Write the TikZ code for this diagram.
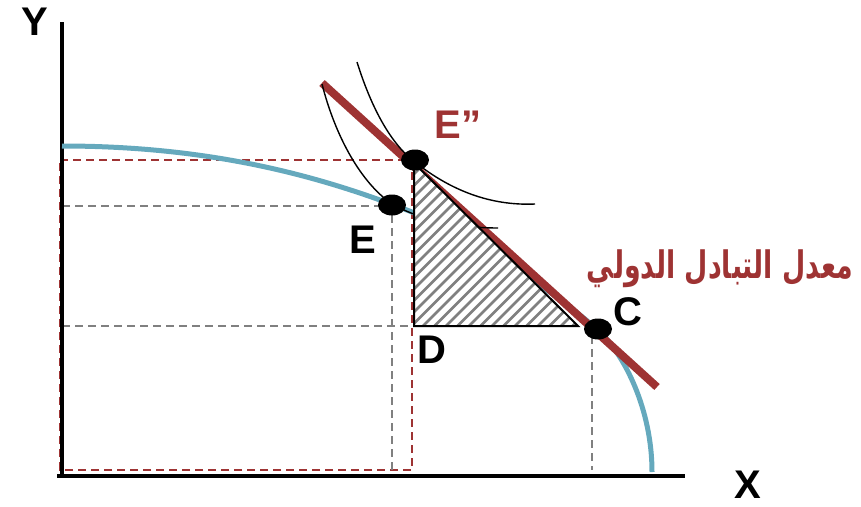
\documentclass[tikz,border=0pt]{standalone}
\usepackage{fontspec}
\usepackage{graphicx}
\setmainfont{Liberation Sans}
\newfontfamily\arabicfont[Script=Arabic]{DejaVu Sans}
\TeXXeTstate=1
\definecolor{ppf}{HTML}{65A9BD}
\definecolor{tot}{HTML}{9E3333}
\definecolor{hatchgray}{HTML}{808080}
\tikzset{
  axis/.style={line width=4pt},
  ppfline/.style={ppf, line width=5pt},
  totline/.style={tot, line width=8pt},
  icurve/.style={black, line width=1.4pt},
  reddash/.style={tot, line width=1.5pt, dash pattern=on 8pt off 5pt},
  graydash/.style={gray, line width=1.6pt, dash pattern=on 8pt off 5pt},
  tri/.style={black, line width=2pt},
  hatch/.style={hatchgray, line width=2.6pt},
  dot/.style={ellipse, fill=black, minimum width=28pt, minimum height=21pt, inner sep=0pt},
  lbl/.style={font=\fontsize{40}{40}\selectfont\bfseries, inner sep=0pt},
}
\usetikzlibrary{shapes.geometric}
\begin{document}
\begin{tikzpicture}[x=1pt,y=-1pt]
\useasboundingbox (0,0) rectangle (861,506);
% key points
\coordinate (Ytop) at (62,22);
\coordinate (O) at (62,476);
\coordinate (Xend) at (685,476);
\coordinate (Xstart) at (57,476);
\coordinate (Pa) at (62,146);
\coordinate (Pb) at (412,212);
\coordinate (Pc) at (598,330);
\coordinate (Pd) at (652,472);
\coordinate (Ta) at (322,83);
\coordinate (Tb) at (657,387);
\coordinate (T1) at (414,163);
\coordinate (T2) at (414,326);
\coordinate (T3) at (578,326);
% dashed guides
\coordinate (R1) at (60,160);
\coordinate (R2) at (412,160);
\coordinate (R3) at (412,470);
\coordinate (R4) at (60,470);
\draw[reddash] (R1) -- (R2) -- (R3) -- (R4) -- cycle;
\coordinate (G1) at (62,206);
\coordinate (G2) at (380,206);
\coordinate (G3) at (392,215);
\coordinate (G4) at (392,470);
\coordinate (G5) at (62,326);
\coordinate (G6) at (414,326);
\coordinate (G7) at (592,336);
\coordinate (G8) at (592,470);
\draw[graydash] (G1) -- (G2);
\draw[graydash] (G3) -- (G4);
\draw[graydash] (G5) -- (G6);
\draw[graydash] (G7) -- (G8);
% axes
\draw[axis] (Ytop) -- (O);
\draw[axis] (Xstart) -- (Xend);
% PPF
\draw[ppfline] (Pa) .. controls (220,146) and (330,180) .. (Pb)
  .. controls (500,250) and (575,310) .. (Pc)
  .. controls (625,355) and (652,410) .. (Pd);
% terms of trade line
\draw[totline] (Ta) -- (Tb);
% indifference curves
\coordinate (I1a) at (322,84);
\coordinate (I1b) at (392,204);
\coordinate (I1c) at (498,228);
\draw[icurve] (I1a) .. controls (335,135) and (360,182) .. (I1b)
  .. controls (420,220) and (460,228) .. (I1c);
\coordinate (I2a) at (357,62);
\coordinate (I2b) at (415,162);
\coordinate (I2c) at (535,204);
\draw[icurve] (I2a) .. controls (372,110) and (392,145) .. (I2b)
  .. controls (450,190) and (490,206) .. (I2c);
% triangle with hatch
\fill[white] (T1) -- (T2) -- (T3) -- cycle;
\begin{scope}
  \clip (T1) -- (T2) -- (T3) -- cycle;
  \foreach \i in {0,...,34} {
    \draw[hatch] (225+\i*11.5,340) -- ++(200,-200);
  }
\end{scope}
\draw[tri] (T1) -- (T2) -- (T3) -- cycle;
% dots
\node[dot] (Epp) at (415,160) {};
\node[dot] (E) at (392,205) {};
\node[dot] (C) at (598,329) {};
% labels
\node[lbl] (Ylab) at (35,22) {Y};
\node[lbl] (Xlab) at (748,485) {X};
\node[lbl, text=tot] (Epplab) at (458,125) {E”};
\node[lbl] (Elab) at (363,240) {E};
\node[lbl] (Dlab) at (432,350) {D};
\node[lbl] (Clab) at (628,312) {C};
\node[text=tot, inner sep=0pt] (tot) at (720,269) {\resizebox*{266pt}{38pt}{\arabicfont\bfseries\beginR معدل التبادل الدولي\endR}};
\end{tikzpicture}
\end{document}
